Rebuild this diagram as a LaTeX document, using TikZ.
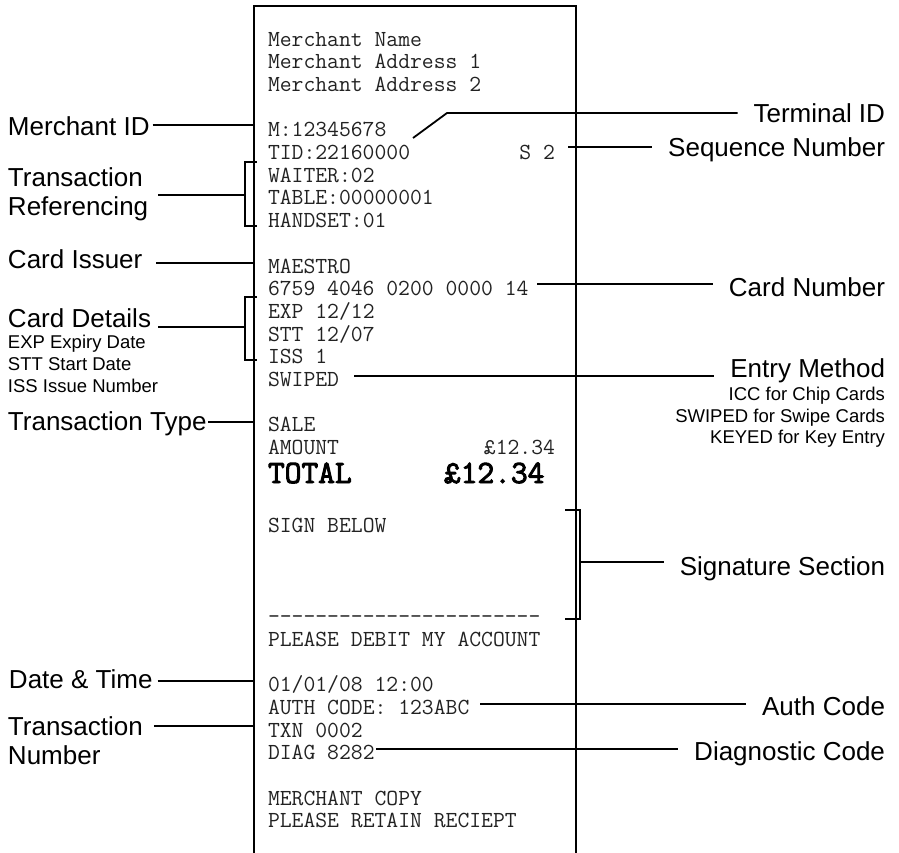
\documentclass[tikz,border=0pt]{standalone}
\usepackage{fontspec}
\setmainfont{Liberation Sans}
\newfontfamily\ttbold{Latin Modern Mono}[FakeBold=3]
\usetikzlibrary{calc}
\definecolor{rtext}{HTML}{222222}
\begin{document}
\begin{tikzpicture}[x=1pt,y=-1pt,
  big/.style={font=\fontsize{26}{29}\selectfont, inner sep=0pt, outer sep=0pt, align=left},
  small/.style={font=\fontsize{18.5}{22}\selectfont, inner sep=0pt, outer sep=0pt},
  rc/.style={font=\ttfamily\fontsize{23}{22.7}\selectfont, text=rtext, inner sep=0pt, outer sep=0pt, anchor=base west},
  rcbold/.style={font=\ttbold\fontsize{32.5}{34}\selectfont, inner sep=0pt, outer sep=0pt, anchor=base west},
  lead/.style={line width=1.8pt},
  brk/.style={line width=1.6pt},
  frame/.style={line width=2.6pt, line join=miter},
]
\useasboundingbox (0,0) rectangle (899,852);

% receipt frame
\draw[frame] (254,860) -- (254,6) -- (576,6) -- (576,860);

% receipt text
\node[rc] (r0)  at (268,46)    {Merchant Name};
\node[rc] (r1)  at (268,68.7)  {Merchant Address 1};
\node[rc] (r2)  at (268,91.4)  {Merchant Address 2};
\node[rc] (r4)  at (268,136.8) {M:12345678};
\node[rc] (r5)  at (268,159.5) {TID:22160000};
\node[rc,anchor=base east] (r5b) at (555,159.5) {S 2};
\node[rc] (r6)  at (268,182.2) {WAITER:02};
\node[rc] (r7)  at (268,204.9) {TABLE:00000001};
\node[rc] (r8)  at (268,227.6) {HANDSET:01};
\node[rc] (r10) at (268,273)   {MAESTRO};
\node[rc] (r11) at (268,295.7) {6759 4046 0200 0000 14};
\node[rc] (r12) at (268,318.4) {EXP 12/12};
\node[rc] (r13) at (268,341.1) {STT 12/07};
\node[rc] (r14) at (268,363.8) {ISS 1};
\node[rc] (r15) at (268,386.5) {SWIPED};
\node[rc] (r17) at (268,431.9) {SALE};
\node[rc] (r18) at (268,454.6) {AMOUNT};
\node[rc,anchor=base east] (r18b) at (555,454.6) {£12.34};
\node[rcbold] (r19) at (268,483) {TOTAL};
\node[rcbold] (r19b) at (444,483) {£12.34};
\node[rc] (r21) at (268,532.7) {SIGN BELOW};
\node[rc] (r25) at (268,623.5) {-{}-{}-{}-{}-{}-{}-{}-{}-{}-{}-{}-{}-{}-{}-{}-{}-{}-{}-{}-{}-{}-{}-{}};
\node[rc] (r26) at (268,646.2) {PLEASE DEBIT MY ACCOUNT};
\node[rc] (r28) at (268,691.6) {01/01/08 12:00};
\node[rc] (r29) at (268,714.3) {AUTH CODE: 123ABC};
\node[rc] (r30) at (268,737)   {TXN 0002};
\node[rc] (r31) at (268,759.7) {DIAG 8282};
\node[rc] (r33) at (268,805.1) {MERCHANT COPY};
\node[rc] (r34) at (268,827.8) {PLEASE RETAIN RECIEPT};

% left labels
\node[big, anchor=base west] (mid)   at (8,135) {Merchant ID};
\node[big, anchor=base west] (tref)  at (8,215) {Transaction\\Referencing};
\node[big, anchor=base west] (iss)   at (8,268) {Card Issuer};
\node[big, anchor=base west] (cdet)  at (8,327) {Card Details};
\node[small, anchor=base west] (cd1) at (8,348) {EXP Expiry Date};
\node[small, anchor=base west] (cd2) at (8,370) {STT Start Date};
\node[small, anchor=base west] (cd3) at (8,392) {ISS Issue Number};
\node[big, anchor=base west] (ttype) at (8,430) {Transaction Type};
\node[big, anchor=base west] (dt)    at (9,688) {Date \& Time};
\node[big, anchor=base west] (tnum)  at (8,764) {Transaction\\Number};

% right labels
\node[big, anchor=base east] (term)  at (885,122) {Terminal ID};
\node[big, anchor=base east] (seq)   at (885,156) {Sequence Number};
\node[big, anchor=base east] (cnum)  at (885,296) {Card Number};
\node[big, anchor=base east] (entry) at (885,377) {Entry Method};
\node[small, anchor=base east] (em1) at (885,400) {ICC for Chip Cards};
\node[small, anchor=base east] (em2) at (885,422) {SWIPED for Swipe Cards};
\node[small, anchor=base east] (em3) at (885,443) {KEYED for Key Entry};
\node[big, anchor=base east] (sig)   at (885,575) {Signature Section};
\node[big, anchor=base east] (auth)  at (885,715) {Auth Code};
\node[big, anchor=base east] (diag)  at (885,760) {Diagnostic Code};

% receipt-side coordinates
\coordinate (mid-r)  at (254,125);
\coordinate (tref-r) at (245,195);
\coordinate (iss-r)  at (254,263);
\coordinate (cdet-r) at (245,327);
\coordinate (tt-r)   at (254,422);
\coordinate (dt-r)   at (254,681);
\coordinate (tn-r)   at (254,726);
\coordinate (tid-a)  at (413,138);
\coordinate (tid-b)  at (447,113);
\coordinate (seq-l)  at (568,147);
\coordinate (cn-l)   at (537,284);
\coordinate (em-l)   at (354,376);
\coordinate (sig-l)  at (580,562);
\coordinate (au-l)   at (480,704);
\coordinate (dg-l)   at (376,749);

% brackets
\draw[brk] (257,162) -- (245,162) -- (245,226) -- (257,226);
\draw[brk] (257,297) -- (245,297) -- (245,360) -- (257,360);
\draw[brk] (565,510) -- (580,510) -- (580,619) -- (565,619);

% left leaders
\draw[lead] ($(mid.east |- mid-r)+(3,0)$) -- (mid-r);
\draw[lead] ($(tref.east |- tref-r)+(10,0)$) -- (tref-r);
\draw[lead] ($(iss.east |- iss-r)+(14,0)$) -- (iss-r);
\draw[lead] ($(cdet.east |- cdet-r)+(7,0)$) -- (cdet-r);
\draw[lead] ($(ttype.east |- tt-r)+(2,0)$) -- (tt-r);
\draw[lead] ($(dt.east |- dt-r)+(5,0)$) -- (dt-r);
\draw[lead] ($(tnum.east |- tn-r)+(11,0)$) -- (tn-r);

% right leaders
\draw[lead] (tid-a) -- (tid-b) -- ($(term.west |- tid-b)+(-16,0)$);
\draw[lead] (seq-l) -- ($(seq.west |- seq-l)+(-16,0)$);
\draw[lead] (cn-l) -- ($(cnum.west |- cn-l)+(-16,0)$);
\draw[lead] (em-l) -- ($(entry.west |- em-l)+(-16,0)$);
\draw[lead] (sig-l) -- ($(sig.west |- sig-l)+(-16,0)$);
\draw[lead] (au-l) -- ($(auth.west |- au-l)+(-16,0)$);
\draw[lead] (dg-l) -- ($(diag.west |- dg-l)+(-16,0)$);
\end{tikzpicture}
\end{document}
